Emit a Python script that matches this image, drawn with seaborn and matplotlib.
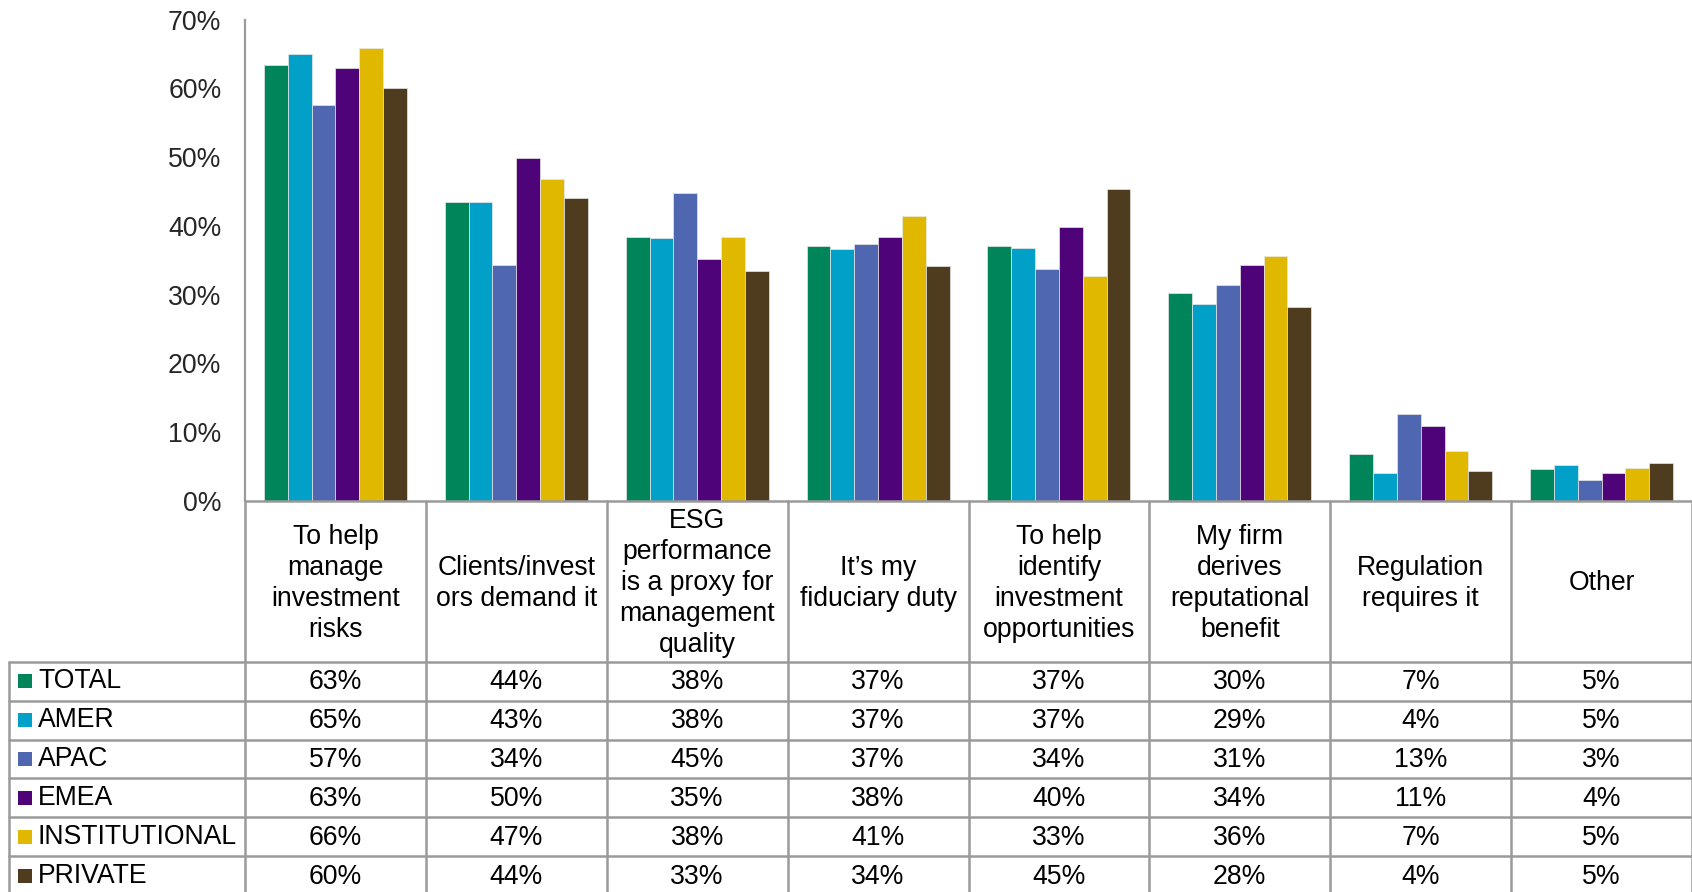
import matplotlib
matplotlib.use("Agg")
import matplotlib.pyplot as plt
import pandas as pd
import seaborn as sns

# Motivos (columnas) y segmentos (series)
CATEGORIES = [
    "To help\nmanage\ninvestment\nrisks",
    "Clients/invest\nors demand it",
    "ESG\nperformance\nis a proxy for\nmanagement\nquality",
    "It’s my\nfiduciary duty",
    "To help\nidentify\ninvestment\nopportunities",
    "My firm\nderives\nreputational\nbenefit",
    "Regulation\nrequires it",
    "Other",
]
SEGMENTS = ["TOTAL", "AMER", "APAC", "EMEA", "INSTITUTIONAL", "PRIVATE"]
COLORS = ["#00855A", "#00A0C8", "#4F67B0", "#4F0378", "#E1B800", "#4F3B1E"]

# Alturas de barra (%)
TOTAL = [63.4, 43.5, 38.4, 37.1, 37.0, 30.3, 6.8, 4.7]
AMER = [65.0, 43.4, 38.2, 36.6, 36.8, 28.7, 4.1, 5.2]
APAC = [57.5, 34.3, 44.8, 37.3, 33.7, 31.4, 12.6, 3.0]
EMEA = [63.0, 49.8, 35.2, 38.4, 39.8, 34.3, 10.9, 4.0]
INSTITUTIONAL = [65.8, 46.8, 38.4, 41.5, 32.7, 35.6, 7.3, 4.8]
PRIVATE = [60.1, 44.0, 33.4, 34.1, 45.4, 28.2, 4.4, 5.5]

# Valores redondeados que muestra la tabla
TABLE = {
    "TOTAL": [63, 44, 38, 37, 37, 30, 7, 5],
    "AMER": [65, 43, 38, 37, 37, 29, 4, 5],
    "APAC": [57, 34, 45, 37, 34, 31, 13, 3],
    "EMEA": [63, 50, 35, 38, 40, 34, 11, 4],
    "INSTITUTIONAL": [66, 47, 38, 41, 33, 36, 7, 5],
    "PRIVATE": [60, 44, 33, 34, 45, 28, 4, 5],
}
Y_TICKS = [0, 10, 20, 30, 40, 50, 60, 70]

series = [TOTAL, AMER, APAC, EMEA, INSTITUTIONAL, PRIVATE]
rows = []
for seg, vals in zip(SEGMENTS, series):
    for cat, v in zip(CATEGORIES, vals):
        rows.append({"cat": cat, "seg": seg, "value": v})
df = pd.DataFrame(rows)

sns.set_theme(style="white")
plt.rcParams["font.family"] = ["Liberation Sans", "DejaVu Sans"]
FS = 19.2
GRID = "#9a9a9a"

W, H = 1692, 892
fig = plt.figure(figsize=(W / 100, H / 100), dpi=100)
x0, y0, ytop = 245, 501, 19.5
ax = fig.add_axes([x0 / W, (H - y0) / H, (W - x0) / W, (y0 - ytop) / H])

sns.barplot(data=df, x="cat", y="value", hue="seg", palette=COLORS,
            hue_order=SEGMENTS, order=CATEGORIES, width=0.79, ax=ax,
            saturation=1, legend=False, edgecolor="#e8e8e8", linewidth=0.5)
ax.set_xlim(-0.5, len(CATEGORIES) - 0.5)
ax.set_ylim(0, 70)
ax.set_yticks(Y_TICKS)
ax.set_yticklabels([f"{t}%" for t in Y_TICKS], fontsize=FS)
ax.tick_params(axis="y", length=0, pad=17)
ax.set_xticks([])
ax.set(xlabel="", ylabel="")
for s in ("top", "right", "bottom"):
    ax.spines[s].set_visible(False)
ax.spines["left"].set_color(GRID)
ax.spines["left"].set_linewidth(1.6)

# Tabla de datos debajo, compartiendo el eje x de las categorías
colw = (W - x0) / len(CATEGORIES)
ax_t = fig.add_axes([x0 / W, 0, (W - x0) / W, (H - y0) / H], sharex=ax)
ax_t.set_ylim(H - y0, 0)
ax_t.axis("off")

head_h, row_h = 160.7, 38.9
left_edge = (8.9 - x0) / colw - 0.5
mark_x = (25 - x0) / colw - 0.5
text_x = (38 - x0) / colw - 0.5
n = len(CATEGORIES)

lw = 1.8
ax_t.plot([-0.5, n - 0.5], [0, 0], color=GRID, lw=lw, clip_on=False)
for i in range(n + 1):
    ax_t.plot([i - 0.5, i - 0.5], [0, H - y0], color=GRID, lw=lw, clip_on=False)
ax_t.plot([left_edge, left_edge], [head_h, H - y0], color=GRID, lw=lw, clip_on=False)
for k in range(len(SEGMENTS)):
    yk = head_h + row_h * k
    ax_t.plot([left_edge, n - 0.5], [yk, yk], color=GRID, lw=lw, clip_on=False)

for i, cat in enumerate(CATEGORIES):
    ax_t.text(i, head_h / 2 + 2, cat, ha="center", va="center", fontsize=FS,
              linespacing=1.25, color="black")

for k, seg in enumerate(SEGMENTS):
    yc = head_h + row_h * (k + 0.5)
    ax_t.scatter([mark_x], [yc], marker="s", s=95, color=COLORS[k],
                 clip_on=False, linewidths=0)
    ax_t.text(text_x, yc, seg, ha="left", va="center", fontsize=FS, color="black")
    for i, v in enumerate(TABLE[seg]):
        ax_t.text(i, yc + 1, f"{v}%", ha="center", va="center", fontsize=FS,
                  color="black")

fig.savefig("out.png", dpi=100)
